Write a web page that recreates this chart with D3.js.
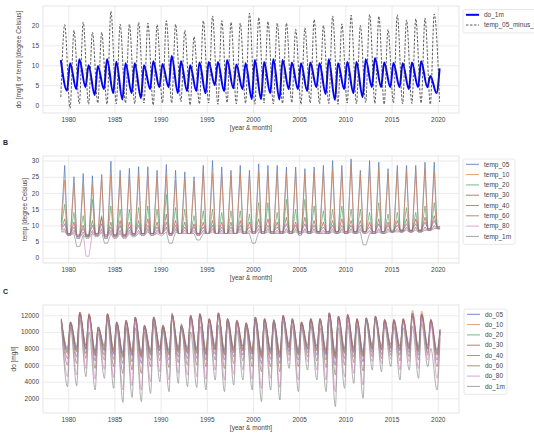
<!DOCTYPE html>
<html>
<head>
<meta charset="utf-8">
<script src="https://cdn.jsdelivr.net/npm/d3@7"></script>
<style>
  body { margin: 0; background: #fff; }
  svg { display: block; font-family: "Liberation Sans", Arial, sans-serif; }
</style>
</head>
<body>
<svg id="chart" width="534" height="446"></svg>
<script>
// one value per year, 1979 .. 2020
const years = d3.range(1979, 2021);
const yearTicks = [1980, 1985, 1990, 1995, 2000, 2005, 2010, 2015, 2020];

// panel A: do_1m [mg/l] and temp_05 minus temp_1m
const do1mHigh = [11.3,10.5,11.5,10,9.8,11.5,10.9,10.5,10.5,10,11,10.3,12.3,11,10,10.7,10.8,10.8,11.3,10.2,10.5,11.3,
  10.8,11.5,11.3,10.7,10.5,10.7,10.5,11.5,10.5,10.8,10.8,11.5,11.8,10.7,10.6,10.5,10.7,11,7.3,9.2];
const do1mLow = [3.6,4,4.5,2.5,4,3,1.4,3,1.8,4,4.5,4.5,3,3.5,3.5,3,5,3.5,4.2,4,1.5,1.5,
  3,1.4,4,4,3.5,4.5,2.8,1.3,4,3,2,4.5,4.5,4.5,4.5,4,4.5,4.5,3];
const diffLow = [2,-0.8,0.3,0.2,0.5,0.2,0.3,0.5,0.3,0.5,0,0.5,0.5,0.8,0,0.3,0.5,0.2,0.6,0.3,0.4,0.2,
  0.5,0.3,0.4,0.6,0.2,0.5,0.3,0.4,0.2,0.5,0.3,0.6,0.4,0.2,0.5,0.3,0.4,0.5,0.2,0.8];
const diffHigh = [20.2,18.8,20.8,18.3,18.3,23.6,20.3,20.3,20.8,20.6,20.2,21.2,20.3,18.8,17.2,21.2,22.4,21.2,20.8,20.6,23.1,22,
  21,20.6,20.6,19,19.4,21.5,20,22.4,20.4,22.6,20,22.8,22.3,19,22.7,21.4,21.7,21.9,22.9];

// panel B: winter level and summer peak per depth [degree Celsius]
const temp05Win = [11,7,6,6.5,7,6,6.5,6.5,7,7.5,7.5,7.5,7,7.5,7.5,7,7.5,7.5,7.5,7.5,7.5,7.5,7.5,7.5,7.5,7.5,7,7.5,8,7.5,8,7.5,8,8,7.5,8,8,8,8,8,8.5,9];
const temp05Sum = [28.5,25,26,25.3,25.7,29.8,27,27.6,28.1,28.1,27,28.8,27,26.5,25,28.5,30,28,27,28.5,27,29,28.5,28.5,28,28,27.5,28,28.5,30,28.5,30.5,27,30,29.5,27.5,28.5,28.5,28.5,29.5,29.5];
const temp10Win = [10,7,6.5,6.5,7,6.5,6.5,6.5,7,7.5,7.5,7.5,7,7.5,7.5,7,7.5,7.5,7.5,7.5,7.5,7.5,7.5,7.5,7.5,7.5,7.5,7.5,8,7.5,8,7.5,8,8,7.5,8,8,8,8,8.5,8.5,9];
const temp10Sum = [24,23,22.5,22.5,25.5,25.5,25,25.5,25.5,25.5,25,25.5,24,24.5,23.5,27.5,26,25.5,25.5,26,25.5,26.5,26,26.5,26,26.5,26,26.5,26.5,27,26.5,29,26,27.5,27.5,26,27,27,27,27.5,26.5];
const temp20Win = [9.5,7.5,6.5,7,7,6.5,7,7,7,7.5,7.5,7.5,7.5,7.5,7.5,7.5,7.5,7.5,7.5,7.5,7.5,7.5,7.5,7.5,7.5,7.5,7.5,8,8,8,8,8,8,8,8,8,8,8.5,8.5,8.5,8.5,9.5];
const temp20Sum = [16.5,14,13,18,13,16,15,15,15.5,16,15,19.5,15.5,15,13,14.5,15,14,14.5,14.5,13.5,17,17,14,18,15,18,16,14.5,15,16,15,15,14,17,13.5,14,15.5,14,16,17];
const temp30Win = [9,7.5,7,7,7.5,7,7,7,7.5,7.5,7.5,7.5,7.5,7.5,7.5,7.5,7.5,7.5,7.5,7.5,7.5,8,8,8,8,8,8,8,8,8,8,8,8,8,8,8,8,8.5,8.5,8.5,9,9.5];
const temp30Sum = [12,11,10,11.5,12.5,11,11.5,11,11.5,12,11,13.5,11.5,11,10.5,11,11.5,11,11,11.5,11,12,12,11,12.5,11,12.5,11.5,11,11.5,12,11.5,11.5,11,12,11,11.5,12,12,12.5,13];
const temp40Win = [8.5,7.5,7,7,7.5,7,7,7,7.5,7.5,7.5,7.5,7.5,7.5,7.5,7.5,7.5,7.5,7.5,7.5,8,8,8,8,8,8,8,8,8,8,8,8,8,8,8,8,8.5,8.5,8.5,8.5,9,9.5];
const temp40Sum = [10.5,9.5,9,10,10.5,9.5,10,9.5,10,10,9.5,11,10,9.5,9.5,9.5,10,9.5,9.5,10,9.5,10,10,9.5,10.5,10,10.5,10,9.5,10,10,10,10,9.5,10.5,10,10,10.5,10.5,11,11.5];
const temp60Win = [8.5,7,6.5,6.5,7,6.5,6.5,6.5,7,7,7,7.5,7,7.5,7.5,7,7.5,7.5,7.5,7.5,7.5,7.5,7.5,7.5,7.5,7.5,7.5,7.5,7.5,7.5,7.5,7.5,7.5,7.5,7.5,7.5,8,8,8,8,8.5,9];
const temp60Sum = [9,8.5,8,8.5,9,8.5,8.5,8.5,8.5,9,8.5,9.5,9,8.5,8.5,8.5,9,8.5,8.5,9,8.5,9,9,8.5,9,9,9,9,8.5,9,9,9,9,8.5,9,9,9,9.5,9.5,9.5,10];
const temp80Win = [8,7,6.5,0.5,7,6.5,6.5,6.5,7,7,7,7.5,7,7.5,7.5,7,7.5,7.5,7.5,7.5,7.5,7.5,7.5,7.5,7.5,7.5,7.5,7.5,7.5,7.5,7.5,7.5,7.5,7.5,7.5,7.5,8,8,8,8,8.5,9];
const temp80Sum = [8.5,8,7.5,8,8.5,8,8,8,8,8.5,8,9,8.5,8,8,8,8.5,8,8,8.5,8,8.5,8.5,8,8.5,8.5,8.5,8.5,8,8.5,8.5,8.5,8.5,8,8.5,8.5,8.5,9,9,9,9.5];
const temp1mWin = [8,7,3.5,6,6.5,4.5,6,6,6.5,7,7,7,4.5,7.5,7.5,5.5,7.5,7.5,7.5,7.5,7.5,4.5,
  7.5,7.5,7.5,7.5,7.5,7.5,7.5,7.5,7.5,7.5,7.5,4,7.5,7.5,8,8,8,8,8.5,9];
const temp1mSum = [8,7.5,7,7.5,8,7.5,7.5,7.5,7.5,8,7.5,8,8,7.5,7.5,7.5,8,7.5,7.5,8,7.5,8,8,7.5,8,8,8,8,7.5,8,8,8,8,7.5,8,8,8,8.5,8.5,8.5,9];

// panel C: spring maximum and autumn minimum per depth [do]
const do05Max = [11600,11200,12200,12000,10600,12200,11200,11400,11800,10800,11800,10800,12000,10800,12000,12200,11600,12300,11600,11400,11100,11800,11600,11400,12000,11600,11200,11600,11600,12300,11900,12100,11600,11700,11900,11500,11500,11600,12300,12200,11500,10300];
const do05Min = [8000,8200,8400,7700,8300,7900,7500,7700,7500,7800,8200,7800,8100,8000,8000,7800,8300,7800,8100,8300,7900,7500,7900,7500,8500,7800,8400,8300,7800,7400,8000,8100,7600,8400,8300,8500,8300,8400,8200,8400,7800];
const do10Max = [11500,11100,12400,12100,10500,12100,11100,11300,11700,10700,11700,10700,12100,10700,11900,12100,11500,12200,11500,11300,11000,11700,11500,11300,11900,11500,11100,11500,11500,12200,11800,12000,11500,11600,11800,11400,11400,11500,12600,12500,11400,10200];
const do10Min = [7800,8000,8200,7500,8100,7700,7300,7500,7300,7600,8000,7600,7900,7800,7800,7600,8100,7600,7900,8100,7700,7300,7700,7300,8300,7600,8200,8100,7600,7200,7800,7900,7400,8200,8100,8300,8100,8200,8000,8200,7600];
const do20Max = [11400,11000,12200,12000,10400,12000,11000,11200,11600,10600,11600,10600,11900,10600,11800,12000,11400,12100,11400,11200,10900,11600,11400,11200,11800,11400,11000,11400,11400,12100,11700,11900,11400,11500,11700,11300,11300,11400,12000,12000,11300,10100];
const do20Min = [7600,7800,8000,7300,7900,7500,7100,7300,7100,7400,7800,7400,7700,7600,7600,7400,7900,7400,7700,7900,7500,7100,7500,7100,8100,7400,8000,7900,7400,7000,7600,7700,7200,8000,7900,8100,7900,8000,7800,8000,7400];
const do30Max = [11500,11200,12400,12200,10600,12200,11200,11400,11800,10800,11800,10800,12100,10800,12000,12200,11600,12300,11600,11400,11100,11800,11600,11400,12000,11600,11200,11600,11600,12300,11900,12100,11600,11700,11900,11500,11500,11600,12200,12100,11500,10300];
const do30Min = [7400,7600,7900,7100,7700,7300,6900,7100,6900,7200,7700,7200,7500,7400,7400,7200,7800,7200,7500,7700,7300,6900,7300,6900,8000,7200,7900,7700,7200,6800,7400,7500,7000,7900,7800,8000,7700,7900,7600,7900,7200];
const do40Max = [11300,10900,12100,11900,10300,11900,10900,11100,11500,10500,11500,10500,11800,10500,11700,11900,11300,12000,11300,11100,10800,11500,11300,11100,11700,11300,10900,11300,11300,12000,11600,11800,11300,11400,11600,11200,11200,11300,11900,11900,11200,10000];
const do40Min = [6800,7000,7400,6500,7200,6700,6200,6400,6200,6600,7200,6600,7000,6800,6800,6600,7300,6600,7000,7200,6700,6200,6700,6200,7600,6600,7500,7200,6600,6000,6800,7000,6400,7500,7300,7600,7200,7500,7200,7500,6600];
const do60Max = [11200,10800,12000,11800,10200,11800,10800,11000,11400,10400,11400,10400,11700,10400,11600,11800,11200,11900,11200,11000,10700,11400,11200,11000,11600,11200,10800,11200,11200,11900,11500,11700,11200,11300,11500,11100,11100,11200,11800,11800,11100,9900];
const do60Min = [6000,6200,6800,5600,6600,5800,5000,5400,5000,5800,6500,5700,6300,6000,6000,5800,6600,5600,6200,6500,5800,5200,5800,5200,7200,5800,7000,6500,5700,4800,6000,6300,5300,7000,6800,7200,6500,7000,6600,7200,5800];
const do80Max = [11100,10700,11800,11600,10100,11700,10700,10900,11300,10300,11300,10300,11600,10300,11500,11700,11100,11800,11100,10900,10600,11300,11100,10900,11500,11100,10700,11100,11100,11800,11400,11600,11100,11200,11400,11000,11000,11100,11700,11700,11000,9800];
const do80Min = [4600,4800,5600,4300,5500,4500,3000,3500,3000,4000,5200,4200,5000,4800,4600,4300,5400,4200,4900,5400,4300,3200,4400,3300,6500,4200,6400,5400,4200,2800,4600,5000,3600,6400,6200,6700,5400,6400,5600,6600,4400];
const doDeepMax = [11300,10500,11500,10000,9800,11500,10900,10500,10500,10000,11000,10300,12300,11000,10000,10700,10800,10800,11300,10200,10500,11300,10800,11500,11300,10700,10500,10700,10500,11500,10500,10800,10800,11500,11800,10700,10600,10500,10700,11000,8000,9200];
const doDeepMin = [3400,3500,4600,3000,4400,3200,1500,2100,1600,2600,4000,2800,3800,3400,3300,3000,4200,2800,3600,4200,3000,1600,3000,1800,5600,2800,5400,4200,2800,1000,3200,3800,2000,5400,5200,5800,4200,5400,4400,5800,3000];

const palette = ["#4c72b0", "#dd8452", "#55a868", "#c44e52", "#8172b3", "#937860", "#da8bc3", "#8c8c8c"];

// turn per-year arrays into [time, value] points; offset = fraction of the year
function seasonal(parts) {
  const pts = [];
  parts.forEach(([arr, off]) => arr.forEach((v, i) => pts.push([years[i] + off, v])));
  return pts.sort((a, b) => a[0] - b[0]);
}

const svg = d3.select("#chart");
const left = 43, right = 459;
const x = d3.scaleLinear().domain([1977.27, 2022.3]).range([left, right]);

function panel(cfg) {
  const y = d3.scaleLinear().domain(cfg.yDomain).range([cfg.bottom, cfg.top]);
  const g = svg.append("g");
  const h = cfg.bottom - cfg.top;

  g.append("rect")
    .attr("x", left).attr("y", cfg.top)
    .attr("width", right - left).attr("height", h)
    .attr("fill", "#fff").attr("stroke", "#dedede").attr("stroke-width", 0.8);

  const xa = g.append("g")
    .attr("transform", `translate(0,${cfg.bottom})`)
    .call(d3.axisBottom(x).tickValues(yearTicks).tickFormat(d3.format("d")).tickSize(-h).tickPadding(4));
  const ya = g.append("g")
    .attr("transform", `translate(${left},0)`)
    .call(d3.axisLeft(y).tickValues(cfg.yTicks).tickFormat(d3.format("d")).tickSize(-(right - left)).tickPadding(4));
  [xa, ya].forEach(a => {
    a.select(".domain").remove();
    a.selectAll("line").attr("stroke", "#e6e6e6").attr("stroke-width", 0.8);
    a.selectAll("text").attr("fill", "#444").style("font-size", "6.5px");
  });

  const clipId = "clip" + cfg.top;
  g.append("clipPath").attr("id", clipId)
    .append("rect").attr("x", left).attr("y", cfg.top).attr("width", right - left).attr("height", h);

  const line = d3.line()
    .x(d => x(d[0])).y(d => y(d[1]))
    .curve(cfg.curve || d3.curveLinear);

  const lines = g.append("g").attr("clip-path", `url(#${clipId})`);
  cfg.series.forEach(s => {
    lines.append("path")
      .datum(s.points)
      .attr("fill", "none")
      .attr("stroke", s.color)
      .attr("stroke-width", s.width)
      .attr("stroke-opacity", s.opacity || 1)
      .attr("stroke-dasharray", s.dash || null)
      .attr("stroke-linejoin", "round")
      .attr("d", line);
  });

  g.append("text")
    .attr("x", (left + right) / 2).attr("y", cfg.bottom + 17)
    .attr("text-anchor", "middle").attr("fill", "#444").style("font-size", "6.5px")
    .text("[year & month]");

  g.append("text")
    .attr("transform", `translate(${cfg.yLabelX},${(cfg.top + cfg.bottom) / 2}) rotate(-90)`)
    .attr("text-anchor", "middle").attr("fill", "#444").style("font-size", "6.5px")
    .text(cfg.yLabel);

  if (cfg.letter) {
    g.append("text")
      .attr("x", 3).attr("y", cfg.top - 11)
      .attr("fill", "#222").style("font-size", "7px").style("font-weight", "bold")
      .text(cfg.letter);
  }

  // legend
  const lg = svg.append("g");
  const rowH = cfg.legendRow;
  lg.append("rect")
    .attr("x", cfg.legendX).attr("y", cfg.legendY)
    .attr("width", cfg.legendW).attr("height", cfg.series.length * rowH + 3)
    .attr("rx", 2).attr("fill", "#fff").attr("stroke", "#e2e2e2").attr("stroke-width", 0.8);
  cfg.series.forEach((s, i) => {
    const ly = cfg.legendY + 5.3 + i * rowH;
    lg.append("line")
      .attr("x1", cfg.legendX + 3).attr("x2", cfg.legendX + 16)
      .attr("y1", ly).attr("y2", ly)
      .attr("stroke", s.color).attr("stroke-width", s.width)
      .attr("stroke-dasharray", s.dash || null);
    lg.append("text")
      .attr("x", cfg.legendX + 21).attr("y", ly)
      .attr("dy", "0.35em").attr("fill", "#444").style("font-size", "6.5px")
      .text(s.name);
  });
}

panel({
  top: 6, bottom: 113, yDomain: [-2, 24.9], yTicks: [0, 5, 10, 15, 20],
  yLabel: "do [mg/l] or temp [degree Celsius]", yLabelX: 21,
  curve: d3.curveMonotoneX,
  legendX: 463, legendY: 9.5, legendW: 90, legendRow: 10.2,
  series: [
    { name: "do_1m", color: "#0000ff", width: 2, points: seasonal([[do1mHigh, 0.2], [do1mLow, 0.87]]) },
    { name: "temp_05_minus_temp_1m", color: "#333", width: 0.8, dash: "2.5,1.5", points: seasonal([[diffLow, 0.2], [diffHigh, 0.62]]) }
  ]
});

const tempSets = [
  ["temp_05", temp05Win, temp05Sum], ["temp_10", temp10Win, temp10Sum],
  ["temp_20", temp20Win, temp20Sum], ["temp_30", temp30Win, temp30Sum],
  ["temp_40", temp40Win, temp40Sum], ["temp_60", temp60Win, temp60Sum],
  ["temp_80", temp80Win, temp80Sum], ["temp_1m", temp1mWin, temp1mSum]
];

panel({
  top: 156, bottom: 263, yDomain: [-1.6, 31.4], yTicks: [0, 5, 10, 15, 20, 25, 30],
  yLabel: "temp [degree Celsius]", yLabelX: 27, letter: "B",
  legendX: 463, legendY: 159, legendW: 52, legendRow: 10.3,
  series: tempSets.map(([name, win, sum], i) => ({
    name, color: palette[i], width: 0.8, opacity: 0.85,
    points: seasonal([[win, 0.25], [sum, 0.62], [win.slice(1), 0.92]])
  }))
});

const doSets = [
  ["do_05", do05Max, do05Min], ["do_10", do10Max, do10Min],
  ["do_20", do20Max, do20Min], ["do_30", do30Max, do30Min],
  ["do_40", do40Max, do40Min], ["do_60", do60Max, do60Min],
  ["do_80", do80Max, do80Min], ["do_1m", doDeepMax, doDeepMin]
];

panel({
  top: 305, bottom: 413, yDomain: [230, 13240], yTicks: [2000, 4000, 6000, 8000, 10000, 12000],
  yLabel: "do [mg/l]", yLabelX: 16, letter: "C",
  curve: d3.curveMonotoneX,
  legendX: 464, legendY: 309, legendW: 43, legendRow: 10.3,
  series: doSets.map(([name, hi, lo], i) => ({
    name, color: palette[i], width: 0.8, opacity: 0.85,
    points: seasonal([[hi, 0.25], [lo, 0.92]])
  }))
});
</script>
</body>
</html>
